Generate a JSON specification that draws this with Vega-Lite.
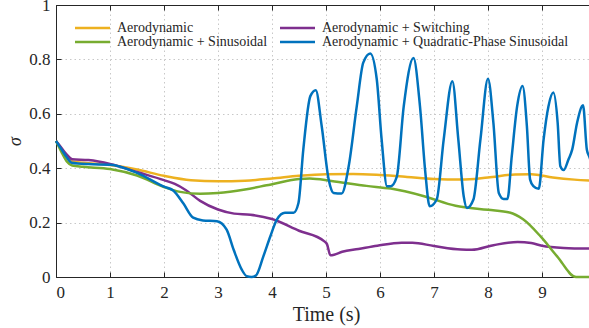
{
  "$schema": "https://vega.github.io/schema/vega-lite/v6.json",
  "autosize": "none",
  "width": 540,
  "height": 272,
  "padding": {"left": 56, "top": 5, "right": 0, "bottom": 51},
  "background": "white",
  "config": {
    "view": {"stroke": "#262626", "strokeWidth": 1},
    "font": "Liberation Serif",
    "axis": {
      "labelColor": "#262626",
      "titleColor": "#262626",
      "domainColor": "#262626",
      "tickColor": "#262626",
      "gridColor": "#c8c8c8",
      "gridDash": [1.5, 3],
      "gridWidth": 1,
      "titleFontWeight": "normal"
    },
    "legend": {
      "labelColor": "#262626"
    }
  },
  "data": {
    "values": [
      {"s": "Aerodynamic", "t": 0, "v": 0.5},
      {"s": "Aerodynamic", "t": 0.1, "v": 0.47},
      {"s": "Aerodynamic", "t": 0.2, "v": 0.44},
      {"s": "Aerodynamic", "t": 0.3, "v": 0.425},
      {"s": "Aerodynamic", "t": 0.5, "v": 0.42},
      {"s": "Aerodynamic", "t": 1, "v": 0.412},
      {"s": "Aerodynamic", "t": 1.5, "v": 0.395},
      {"s": "Aerodynamic", "t": 2, "v": 0.372},
      {"s": "Aerodynamic", "t": 2.5, "v": 0.356},
      {"s": "Aerodynamic", "t": 3, "v": 0.352},
      {"s": "Aerodynamic", "t": 3.5, "v": 0.354},
      {"s": "Aerodynamic", "t": 4, "v": 0.362},
      {"s": "Aerodynamic", "t": 4.5, "v": 0.372},
      {"s": "Aerodynamic", "t": 5, "v": 0.378},
      {"s": "Aerodynamic", "t": 5.5, "v": 0.379},
      {"s": "Aerodynamic", "t": 6, "v": 0.375},
      {"s": "Aerodynamic", "t": 6.5, "v": 0.368},
      {"s": "Aerodynamic", "t": 7, "v": 0.36},
      {"s": "Aerodynamic", "t": 7.5, "v": 0.358},
      {"s": "Aerodynamic", "t": 8, "v": 0.366},
      {"s": "Aerodynamic", "t": 8.5, "v": 0.377},
      {"s": "Aerodynamic", "t": 8.8, "v": 0.378},
      {"s": "Aerodynamic", "t": 9.2, "v": 0.366},
      {"s": "Aerodynamic", "t": 9.6, "v": 0.358},
      {"s": "Aerodynamic", "t": 10, "v": 0.354},

      {"s": "Aerodynamic + Switching", "t": 0, "v": 0.5},
      {"s": "Aerodynamic + Switching", "t": 0.1, "v": 0.475},
      {"s": "Aerodynamic + Switching", "t": 0.2, "v": 0.45},
      {"s": "Aerodynamic + Switching", "t": 0.3, "v": 0.433},
      {"s": "Aerodynamic + Switching", "t": 0.6, "v": 0.43},
      {"s": "Aerodynamic + Switching", "t": 1, "v": 0.416},
      {"s": "Aerodynamic + Switching", "t": 1.5, "v": 0.386},
      {"s": "Aerodynamic + Switching", "t": 2, "v": 0.356},
      {"s": "Aerodynamic + Switching", "t": 2.2, "v": 0.342},
      {"s": "Aerodynamic + Switching", "t": 2.4, "v": 0.32},
      {"s": "Aerodynamic + Switching", "t": 2.67, "v": 0.28},
      {"s": "Aerodynamic + Switching", "t": 3, "v": 0.248},
      {"s": "Aerodynamic + Switching", "t": 3.3, "v": 0.233},
      {"s": "Aerodynamic + Switching", "t": 3.6, "v": 0.229},
      {"s": "Aerodynamic + Switching", "t": 4, "v": 0.213},
      {"s": "Aerodynamic + Switching", "t": 4.5, "v": 0.17},
      {"s": "Aerodynamic + Switching", "t": 4.97, "v": 0.131},
      {"s": "Aerodynamic + Switching", "t": 5.02, "v": 0.12},
      {"s": "Aerodynamic + Switching", "t": 5.08, "v": 0.08},
      {"s": "Aerodynamic + Switching", "t": 5.15, "v": 0.082},
      {"s": "Aerodynamic + Switching", "t": 5.3, "v": 0.093},
      {"s": "Aerodynamic + Switching", "t": 5.6, "v": 0.103},
      {"s": "Aerodynamic + Switching", "t": 5.95, "v": 0.115},
      {"s": "Aerodynamic + Switching", "t": 6.4, "v": 0.126},
      {"s": "Aerodynamic + Switching", "t": 6.6, "v": 0.126},
      {"s": "Aerodynamic + Switching", "t": 7, "v": 0.114},
      {"s": "Aerodynamic + Switching", "t": 7.5, "v": 0.101},
      {"s": "Aerodynamic + Switching", "t": 7.7, "v": 0.1},
      {"s": "Aerodynamic + Switching", "t": 8.1, "v": 0.117},
      {"s": "Aerodynamic + Switching", "t": 8.55, "v": 0.129},
      {"s": "Aerodynamic + Switching", "t": 8.8, "v": 0.125},
      {"s": "Aerodynamic + Switching", "t": 9, "v": 0.115},
      {"s": "Aerodynamic + Switching", "t": 9.4, "v": 0.107},
      {"s": "Aerodynamic + Switching", "t": 10, "v": 0.104},

      {"s": "Aerodynamic + Sinusoidal", "t": 0, "v": 0.5},
      {"s": "Aerodynamic + Sinusoidal", "t": 0.1, "v": 0.46},
      {"s": "Aerodynamic + Sinusoidal", "t": 0.2, "v": 0.425},
      {"s": "Aerodynamic + Sinusoidal", "t": 0.3, "v": 0.41},
      {"s": "Aerodynamic + Sinusoidal", "t": 0.5, "v": 0.405},
      {"s": "Aerodynamic + Sinusoidal", "t": 1, "v": 0.397},
      {"s": "Aerodynamic + Sinusoidal", "t": 1.5, "v": 0.373},
      {"s": "Aerodynamic + Sinusoidal", "t": 2, "v": 0.331},
      {"s": "Aerodynamic + Sinusoidal", "t": 2.3, "v": 0.313},
      {"s": "Aerodynamic + Sinusoidal", "t": 2.67, "v": 0.306},
      {"s": "Aerodynamic + Sinusoidal", "t": 3, "v": 0.309},
      {"s": "Aerodynamic + Sinusoidal", "t": 3.5, "v": 0.322},
      {"s": "Aerodynamic + Sinusoidal", "t": 3.9, "v": 0.337},
      {"s": "Aerodynamic + Sinusoidal", "t": 4.5, "v": 0.36},
      {"s": "Aerodynamic + Sinusoidal", "t": 4.7, "v": 0.362},
      {"s": "Aerodynamic + Sinusoidal", "t": 5.1, "v": 0.353},
      {"s": "Aerodynamic + Sinusoidal", "t": 5.75, "v": 0.335},
      {"s": "Aerodynamic + Sinusoidal", "t": 6.2, "v": 0.325},
      {"s": "Aerodynamic + Sinusoidal", "t": 6.8, "v": 0.298},
      {"s": "Aerodynamic + Sinusoidal", "t": 7.4, "v": 0.262},
      {"s": "Aerodynamic + Sinusoidal", "t": 8, "v": 0.247},
      {"s": "Aerodynamic + Sinusoidal", "t": 8.4, "v": 0.237},
      {"s": "Aerodynamic + Sinusoidal", "t": 8.65, "v": 0.212},
      {"s": "Aerodynamic + Sinusoidal", "t": 8.97, "v": 0.15},
      {"s": "Aerodynamic + Sinusoidal", "t": 9.28, "v": 0.076},
      {"s": "Aerodynamic + Sinusoidal", "t": 9.63, "v": 0},
      {"s": "Aerodynamic + Sinusoidal", "t": 10, "v": 0},

      {"s": "Aerodynamic + Quadratic-Phase Sinusoidal", "t": 0, "v": 0.5},
      {"s": "Aerodynamic + Quadratic-Phase Sinusoidal", "t": 0.1, "v": 0.47},
      {"s": "Aerodynamic + Quadratic-Phase Sinusoidal", "t": 0.2, "v": 0.44},
      {"s": "Aerodynamic + Quadratic-Phase Sinusoidal", "t": 0.29, "v": 0.42},
      {"s": "Aerodynamic + Quadratic-Phase Sinusoidal", "t": 0.6, "v": 0.415},
      {"s": "Aerodynamic + Quadratic-Phase Sinusoidal", "t": 1, "v": 0.413},
      {"s": "Aerodynamic + Quadratic-Phase Sinusoidal", "t": 1.5, "v": 0.383},
      {"s": "Aerodynamic + Quadratic-Phase Sinusoidal", "t": 2, "v": 0.332},
      {"s": "Aerodynamic + Quadratic-Phase Sinusoidal", "t": 2.17, "v": 0.318},
      {"s": "Aerodynamic + Quadratic-Phase Sinusoidal", "t": 2.36, "v": 0.27},
      {"s": "Aerodynamic + Quadratic-Phase Sinusoidal", "t": 2.54, "v": 0.218},
      {"s": "Aerodynamic + Quadratic-Phase Sinusoidal", "t": 2.72, "v": 0.208},
      {"s": "Aerodynamic + Quadratic-Phase Sinusoidal", "t": 2.98, "v": 0.205},
      {"s": "Aerodynamic + Quadratic-Phase Sinusoidal", "t": 3.16, "v": 0.174},
      {"s": "Aerodynamic + Quadratic-Phase Sinusoidal", "t": 3.29, "v": 0.1},
      {"s": "Aerodynamic + Quadratic-Phase Sinusoidal", "t": 3.44, "v": 0.027},
      {"s": "Aerodynamic + Quadratic-Phase Sinusoidal", "t": 3.53, "v": 0.003},
      {"s": "Aerodynamic + Quadratic-Phase Sinusoidal", "t": 3.62, "v": 0},
      {"s": "Aerodynamic + Quadratic-Phase Sinusoidal", "t": 3.7, "v": 0.005},
      {"s": "Aerodynamic + Quadratic-Phase Sinusoidal", "t": 3.84, "v": 0.076},
      {"s": "Aerodynamic + Quadratic-Phase Sinusoidal", "t": 3.97, "v": 0.15},
      {"s": "Aerodynamic + Quadratic-Phase Sinusoidal", "t": 4.09, "v": 0.211},
      {"s": "Aerodynamic + Quadratic-Phase Sinusoidal", "t": 4.24, "v": 0.236},
      {"s": "Aerodynamic + Quadratic-Phase Sinusoidal", "t": 4.4, "v": 0.236},
      {"s": "Aerodynamic + Quadratic-Phase Sinusoidal", "t": 4.49, "v": 0.272},
      {"s": "Aerodynamic + Quadratic-Phase Sinusoidal", "t": 4.58, "v": 0.469},
      {"s": "Aerodynamic + Quadratic-Phase Sinusoidal", "t": 4.71, "v": 0.665},
      {"s": "Aerodynamic + Quadratic-Phase Sinusoidal", "t": 4.81, "v": 0.687},
      {"s": "Aerodynamic + Quadratic-Phase Sinusoidal", "t": 4.92, "v": 0.555},
      {"s": "Aerodynamic + Quadratic-Phase Sinusoidal", "t": 5.05, "v": 0.358},
      {"s": "Aerodynamic + Quadratic-Phase Sinusoidal", "t": 5.14, "v": 0.309},
      {"s": "Aerodynamic + Quadratic-Phase Sinusoidal", "t": 5.29, "v": 0.307},
      {"s": "Aerodynamic + Quadratic-Phase Sinusoidal", "t": 5.42, "v": 0.407},
      {"s": "Aerodynamic + Quadratic-Phase Sinusoidal", "t": 5.57, "v": 0.628},
      {"s": "Aerodynamic + Quadratic-Phase Sinusoidal", "t": 5.69, "v": 0.788},
      {"s": "Aerodynamic + Quadratic-Phase Sinusoidal", "t": 5.82, "v": 0.822},
      {"s": "Aerodynamic + Quadratic-Phase Sinusoidal", "t": 5.94, "v": 0.727},
      {"s": "Aerodynamic + Quadratic-Phase Sinusoidal", "t": 6.03, "v": 0.506},
      {"s": "Aerodynamic + Quadratic-Phase Sinusoidal", "t": 6.13, "v": 0.334},
      {"s": "Aerodynamic + Quadratic-Phase Sinusoidal", "t": 6.2, "v": 0.334},
      {"s": "Aerodynamic + Quadratic-Phase Sinusoidal", "t": 6.31, "v": 0.368},
      {"s": "Aerodynamic + Quadratic-Phase Sinusoidal", "t": 6.44, "v": 0.628},
      {"s": "Aerodynamic + Quadratic-Phase Sinusoidal", "t": 6.62, "v": 0.805},
      {"s": "Aerodynamic + Quadratic-Phase Sinusoidal", "t": 6.74, "v": 0.628},
      {"s": "Aerodynamic + Quadratic-Phase Sinusoidal", "t": 6.84, "v": 0.383},
      {"s": "Aerodynamic + Quadratic-Phase Sinusoidal", "t": 6.92, "v": 0.26},
      {"s": "Aerodynamic + Quadratic-Phase Sinusoidal", "t": 7.05, "v": 0.285},
      {"s": "Aerodynamic + Quadratic-Phase Sinusoidal", "t": 7.18, "v": 0.506},
      {"s": "Aerodynamic + Quadratic-Phase Sinusoidal", "t": 7.34, "v": 0.72},
      {"s": "Aerodynamic + Quadratic-Phase Sinusoidal", "t": 7.45, "v": 0.506},
      {"s": "Aerodynamic + Quadratic-Phase Sinusoidal", "t": 7.55, "v": 0.297},
      {"s": "Aerodynamic + Quadratic-Phase Sinusoidal", "t": 7.61, "v": 0.254},
      {"s": "Aerodynamic + Quadratic-Phase Sinusoidal", "t": 7.73, "v": 0.285},
      {"s": "Aerodynamic + Quadratic-Phase Sinusoidal", "t": 7.86, "v": 0.506},
      {"s": "Aerodynamic + Quadratic-Phase Sinusoidal", "t": 8, "v": 0.729},
      {"s": "Aerodynamic + Quadratic-Phase Sinusoidal", "t": 8.1, "v": 0.567},
      {"s": "Aerodynamic + Quadratic-Phase Sinusoidal", "t": 8.2, "v": 0.309},
      {"s": "Aerodynamic + Quadratic-Phase Sinusoidal", "t": 8.29, "v": 0.287},
      {"s": "Aerodynamic + Quadratic-Phase Sinusoidal", "t": 8.36, "v": 0.287},
      {"s": "Aerodynamic + Quadratic-Phase Sinusoidal", "t": 8.44, "v": 0.444},
      {"s": "Aerodynamic + Quadratic-Phase Sinusoidal", "t": 8.54, "v": 0.628},
      {"s": "Aerodynamic + Quadratic-Phase Sinusoidal", "t": 8.64, "v": 0.702},
      {"s": "Aerodynamic + Quadratic-Phase Sinusoidal", "t": 8.72, "v": 0.555},
      {"s": "Aerodynamic + Quadratic-Phase Sinusoidal", "t": 8.78, "v": 0.358},
      {"s": "Aerodynamic + Quadratic-Phase Sinusoidal", "t": 8.84, "v": 0.334},
      {"s": "Aerodynamic + Quadratic-Phase Sinusoidal", "t": 8.94, "v": 0.324},
      {"s": "Aerodynamic + Quadratic-Phase Sinusoidal", "t": 9.03, "v": 0.506},
      {"s": "Aerodynamic + Quadratic-Phase Sinusoidal", "t": 9.12, "v": 0.628},
      {"s": "Aerodynamic + Quadratic-Phase Sinusoidal", "t": 9.21, "v": 0.678},
      {"s": "Aerodynamic + Quadratic-Phase Sinusoidal", "t": 9.29, "v": 0.567},
      {"s": "Aerodynamic + Quadratic-Phase Sinusoidal", "t": 9.34, "v": 0.407},
      {"s": "Aerodynamic + Quadratic-Phase Sinusoidal", "t": 9.4, "v": 0.393},
      {"s": "Aerodynamic + Quadratic-Phase Sinusoidal", "t": 9.49, "v": 0.432},
      {"s": "Aerodynamic + Quadratic-Phase Sinusoidal", "t": 9.56, "v": 0.469},
      {"s": "Aerodynamic + Quadratic-Phase Sinusoidal", "t": 9.65, "v": 0.567},
      {"s": "Aerodynamic + Quadratic-Phase Sinusoidal", "t": 9.76, "v": 0.631},
      {"s": "Aerodynamic + Quadratic-Phase Sinusoidal", "t": 9.83, "v": 0.469},
      {"s": "Aerodynamic + Quadratic-Phase Sinusoidal", "t": 9.88, "v": 0.44},
      {"s": "Aerodynamic + Quadratic-Phase Sinusoidal", "t": 9.95, "v": 0.4},
      {"s": "Aerodynamic + Quadratic-Phase Sinusoidal", "t": 10, "v": 0.38}
    ]
  },
  "layer": [
    {
      "mark": {"type": "line", "strokeWidth": 2.5, "interpolate": "monotone"},
      "encoding": {
        "x": {
          "field": "t", "type": "quantitative",
          "scale": {"domain": [0, 10], "nice": false},
          "axis": {
            "title": "Time (s)", "titleFontSize": 20, "titlePadding": 4,
            "titleFont": "Liberation Serif", "labelFont": "Liberation Serif",
            "values": [0, 1, 2, 3, 4, 5, 6, 7, 8, 9],
            "labelFontSize": 17, "tickSize": -5, "labelPadding": 12,
            "grid": true, "format": "~g"
          }
        },
        "y": {
          "field": "v", "type": "quantitative",
          "scale": {"domain": [0, 1], "nice": false},
          "axis": {
            "title": "σ", "titleFontSize": 18, "titleFontStyle": "italic",
            "titleFont": "Liberation Serif", "labelFont": "Liberation Serif",
            "values": [0, 0.2, 0.4, 0.6, 0.8, 1],
            "labelFontSize": 17, "tickSize": -5, "labelPadding": 11,
            "titlePadding": 4, "grid": true, "format": "~g"
          }
        },
        "color": {
          "field": "s", "type": "nominal",
          "scale": {
            "domain": ["Aerodynamic", "Aerodynamic + Sinusoidal", "Aerodynamic + Switching", "Aerodynamic + Quadratic-Phase Sinusoidal"],
            "range": ["#EDB120", "#77AC30", "#7E2F8E", "#0072BD"]
          },
          "legend": {
            "title": null, "orient": "none", "legendX": 29.5, "legendY": 16,
            "columns": 2, "columnPadding": 7, "rowPadding": -2,
            "symbolType": "M-3.5,0L3.5,0", "symbolSize": 100, "symbolStrokeWidth": 2.5,
            "labelFont": "Liberation Serif",
            "labelFontSize": 14, "labelOffset": 17.5, "labelLimit": 400
          }
        }
      }
    },
    {
      "mark": {"type": "line", "opacity": 0},
      "encoding": {
        "x": {
          "field": "t", "type": "quantitative",
          "scale": {"domain": [0, 10], "nice": false},
          "axis": {
            "orient": "top", "title": null, "labels": false, "grid": false,
            "values": [0, 1, 2, 3, 4, 5, 6, 7, 8, 9], "tickSize": -5
          }
        },
        "y": {"field": "v", "type": "quantitative"},
        "detail": {"field": "s"}
      }
    }
  ],
  "resolve": {"axis": {"x": "independent"}}
}
